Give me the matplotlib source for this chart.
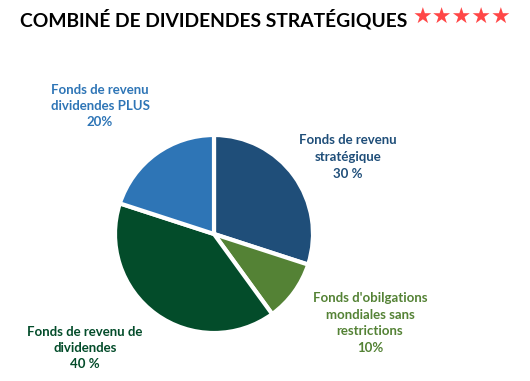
import matplotlib
matplotlib.use("Agg")
import matplotlib.pyplot as plt

title = "COMBINÉ DE DIVIDENDES STRATÉGIQUES"
stars = "★★★★★"
labels = ["Fonds de revenu\nstratégique\n30 %",
          "Fonds d'obilgations\nmondiales sans\nrestrictions\n10%",
          "Fonds de revenu de\ndividendes\n40 %",
          "Fonds de revenu\ndividendes PLUS\n20%"]
values = [30, 10, 40, 20]
colors = ["#1F4E79", "#548235", "#034C2A", "#2E75B6"]
text_colors = ["#1F4E79", "#548235", "#034C2A", "#2E75B6"]
label_pos_px = [(348, 157), (370, 323), (85, 348), (100, 106)]

W, H = 530, 381
fig = plt.figure(figsize=(W / 100, H / 100), dpi=100)
fig.patch.set_facecolor("white")

cx, cy, r = 214, 234, 100
ax = fig.add_axes([(cx - r) / W, (H - cy - r) / H, 2 * r / W, 2 * r / H])
ax.pie(values, colors=colors, startangle=90, counterclock=False, radius=0.99,
       wedgeprops=dict(edgecolor="white", linewidth=3))
ax.set_xlim(-1, 1)
ax.set_ylim(-1, 1)
ax.set_aspect("equal")
ax.axis("off")

fig.text(20 / W, 1 - 19 / H, title, fontsize=13.9, fontweight="bold",
         family="Lato", color="black", ha="left", va="center")
fig.text(511 / W, 1 - 18 / H, stars, fontsize=15.8, family="DejaVu Sans",
         color="#FF4747", ha="right", va="center")

for lab, col, (px, py) in zip(labels, text_colors, label_pos_px):
    fig.text(px / W, 1 - py / H, lab, fontsize=9.5, fontweight="bold",
             family="Lato", color=col, ha="center", va="center",
             linespacing=1.45)

fig.savefig("out.png", dpi=100, facecolor="white")
